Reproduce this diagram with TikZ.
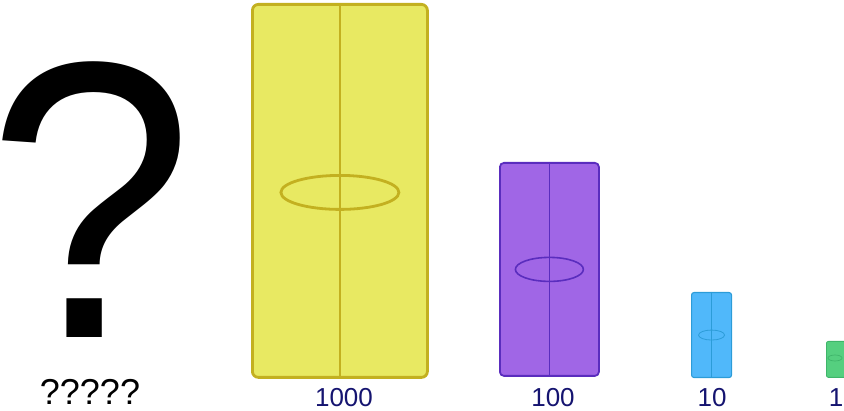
\documentclass[tikz,border=0pt]{standalone}
\usepackage{fontspec}
\setmainfont{Liberation Sans}
\usepackage{tikz}
\usetikzlibrary{positioning}
\definecolor{cubeyellow}{HTML}{E8E962}
\definecolor{cubeyellowline}{HTML}{C3B020}
\definecolor{flatpurple}{HTML}{A066E6}
\definecolor{flatpurpleline}{HTML}{5A2DBE}
\definecolor{longblue}{HTML}{50B8FA}
\definecolor{longblueline}{HTML}{2C9CD8}
\definecolor{unitgreen}{HTML}{55CF7F}
\definecolor{unitgreenline}{HTML}{3FB56A}
\definecolor{labelnavy}{HTML}{151470}

\begin{document}
\begin{tikzpicture}[
  x=1pt, y=-1pt,
  block/.style={
    rectangle,
    inner sep=0pt,
    anchor=north west,
  },
  valuelabel/.style={
    font=\fontsize{26}{26}\selectfont,
    text=labelnavy,
    inner sep=0pt,
    text depth=0pt,
  },
]
  \useasboundingbox (0,0) rectangle (844,411);

  % the unknown
  \node[inner sep=0pt, text depth=0pt, anchor=base, font=\fontsize{395}{395}\selectfont, xscale=0.94] (mark) at (91,338) {\makebox[190pt]{?}};
  \node[inner sep=0pt, text depth=0pt, anchor=base, font=\fontsize{36}{36}\selectfont] (marks) at (90,405) {?????};

  % blocks of decreasing value
  \node[block, draw=cubeyellowline, fill=cubeyellow, line width=2.8pt, rounded corners=6pt,
        minimum width=175pt, minimum height=373pt] (thousand) at (251,3) {};
  \node[block, draw=flatpurpleline, fill=flatpurple, line width=1.8pt, rounded corners=4pt,
        minimum width=99pt, minimum height=213pt] (hundred) at (499,162) {};
  \node[block, draw=longblueline, fill=longblue, line width=1.1pt, rounded corners=2.5pt,
        minimum width=40pt, minimum height=85pt] (ten) at (691,292) {};
  \node[block, draw=unitgreenline, fill=unitgreen, line width=0.8pt, rounded corners=2pt,
        minimum width=30pt, minimum height=36pt] (one) at (826,341) {};

  \draw[cubeyellowline, line width=2.8pt] (thousand.north) -- (thousand.south);
  \draw[cubeyellowline, line width=2.8pt] ([yshift=-1.5pt]thousand.center) ellipse [x radius=59, y radius=17];
  \draw[flatpurpleline, line width=1.6pt] (hundred.north) -- (hundred.south);
  \draw[flatpurpleline, line width=1.6pt] (hundred.center) ellipse [x radius=34, y radius=12];
  \draw[longblueline, line width=1pt] (ten.north) -- (ten.south);
  \draw[longblueline, line width=0.8pt] (ten.center) ellipse [x radius=13, y radius=5];
  \draw[unitgreenline, line width=0.7pt] (835,358) ellipse [x radius=7, y radius=3];

  \node[valuelabel, anchor=base] (thousandlabel) at (344,407) {1000};
  \node[valuelabel, anchor=base] (hundredlabel) at (553,407) {100};
  \node[valuelabel, anchor=base] (tenlabel) at (712,407) {10};
  \node[valuelabel, anchor=base] (onelabel) at (836,407) {1};
\end{tikzpicture}
\end{document}
